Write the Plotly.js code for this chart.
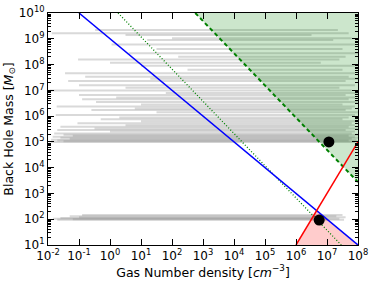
<!DOCTYPE html>
<html><head><meta charset="utf-8">
<script src="https://cdn.plot.ly/plotly-3.0.1.min.js"></script>
<style>html,body{margin:0;padding:0;background:#fff}#c{width:374px;height:281px}</style>
</head><body><div id="c"></div>
<script>
// Gray black-hole tracks: log10 mass, log10 start density, log10 end density
const trackLogM = [9.34,9.21,9.15,9.02,8.95,8.78,8.6,8.44,8.3,8.2,8.07,7.95,7.8,7.66,7.53,7.45,7.36,7.2,7.1,6.99,6.9,6.82,6.72,6.65,6.55,6.45,6.37,6.3,6.24,6.15,6.04,5.95,5.88,5.8,5.72,5.65,5.59,5.52,5.46,5.4,5.33,5.28,5.24,5.2,5.16,5.12,5.08,5.05,5.02,5.0,
  2.16,2.12,2.08,2.05,2.02,2.0,1.98];
const trackStart = [-0.48,-1.88,0.5,2.0,1.2,0.05,1.5,0.6,2.2,-1.03,0.0,1.0,2.5,-1.45,-0.8,1.3,-1.35,-1.0,0.5,-1.94,1.8,-1.0,0.2,-0.9,-0.45,1.0,-1.72,0.8,-0.6,1.5,-1.75,0.3,-0.3,1.0,-1.05,0.5,-1.6,-0.5,-1.7,0.0,-1.8,-1.5,-1.2,-1.85,-1.6,-1.3,-1.9,-1.7,-1.5,-1.9,
  -0.9,-1.3,-1.0,-1.6,-1.84,-1.2,-1.7];
const trackEnd = [7.35,7.7,6.5,7.8,7.2,7.9,7.5,8.0,7.6,7.4,6.8,7.9,7.5,7.9,7.7,8.0,7.6,7.9,7.4,7.8,8.0,7.6,7.9,7.7,8.0,7.5,7.9,7.8,7.6,8.0,7.9,7.7,7.5,8.0,7.8,7.9,7.7,8.0,7.6,7.9,7.8,8.0,7.7,7.9,8.0,7.8,7.95,7.7,8.0,7.9,
  7.5,7.3,7.6,6.8,7.4,7.0,7.55];

// Limit lines (density, mass)
const blueN = [1e-1, 1e8], blueM = [1e10, 1e1];
const dottedN = [Math.pow(10,0.26), Math.pow(10,7.46)], dottedM = [1e10, 1e1];
const dashedN = [Math.pow(10,2.75), 1e8], dashedM = [1e10, Math.pow(10,3.44)];
const redN = [1e6, 1e8], redM = [1e1, 1e5];
const greenFillN = [Math.pow(10,2.75), 1e8, 1e8, Math.pow(10,2.75)];
const greenFillM = [1e10, 1e10, Math.pow(10,3.44), 1e10];
const pinkFillN = [1e6, Math.pow(10,6.667), 1e8, 1e6];
const pinkFillM = [1e1, Math.pow(10,2.333), 1e1, 1e1];
// Black points
const dotN = [1.15e7, 5.6e6], dotM = [1e5, 93];

const xTickVals = [1e-2,1e-1,1e0,1e1,1e2,1e3,1e4,1e5,1e6,1e7,1e8];
const xTickText = ['10<sup>-2</sup>','10<sup>-1</sup>','10<sup>0</sup>','10<sup>1</sup>','10<sup>2</sup>','10<sup>3</sup>','10<sup>4</sup>','10<sup>5</sup>','10<sup>6</sup>','10<sup>7</sup>','10<sup>8</sup>'];
const yTickVals = [1e1,1e2,1e3,1e4,1e5,1e6,1e7,1e8,1e9,1e10];
const yTickText = ['10<sup>1</sup>','10<sup>2</sup>','10<sup>3</sup>','10<sup>4</sup>','10<sup>5</sup>','10<sup>6</sup>','10<sup>7</sup>','10<sup>8</sup>','10<sup>9</sup>','10<sup>10</sup>'];

const traces = [];
for (let i = 0; i < trackLogM.length; i++) {
  const m = Math.pow(10, trackLogM[i]);
  traces.push({x:[Math.pow(10,trackStart[i]), Math.pow(10,trackEnd[i])], y:[m,m], mode:'lines',
    line:{color:'rgba(140,140,140,0.33)', width:2}, hoverinfo:'skip', showlegend:false});
}
traces.push({x:greenFillN, y:greenFillM, mode:'lines', fill:'toself', fillcolor:'rgba(0,128,0,0.2)', line:{width:0}, showlegend:false});
traces.push({x:pinkFillN, y:pinkFillM, mode:'lines', fill:'toself', fillcolor:'rgba(255,0,0,0.2)', line:{width:0}, showlegend:false});
traces.push({x:dottedN, y:dottedM, mode:'lines', line:{color:'green', width:1.3, dash:'1px,2px'}, showlegend:false});
traces.push({x:dashedN, y:dashedM, mode:'lines', line:{color:'green', width:2, dash:'4px,3px'}, showlegend:false});
traces.push({x:blueN, y:blueM, mode:'lines', line:{color:'blue', width:1.5}, showlegend:false});
traces.push({x:redN, y:redM, mode:'lines', line:{color:'red', width:1.5}, showlegend:false});
traces.push({x:dotN, y:dotM, mode:'markers', marker:{color:'black', size:11}, showlegend:false});

const minorY = [];
for (let d = 1; d < 10; d++) for (let k = 2; k <= 9; k++) minorY.push(k*Math.pow(10,d));

const layout = {
  width:374, height:281, margin:{l:48, r:16, t:13, b:36},
  paper_bgcolor:'white', plot_bgcolor:'white', showlegend:false,
  font:{family:'DejaVu Sans', size:12, color:'black'},
  xaxis:{type:'log', range:[-2,8], tickmode:'array', tickvals:xTickVals, ticktext:xTickText,
    ticks:'inside', ticklen:6, tickcolor:'black', showgrid:false, zeroline:false,
    showline:true, linecolor:'black', linewidth:1, mirror:'allticks',
    tickfont:{size:12}, title:{text:'Gas Number density [<i>cm</i><sup>−3</sup>]', font:{size:12.5}, standoff:2}},
  yaxis:{type:'log', range:[1,10], tickmode:'array', tickvals:yTickVals, ticktext:yTickText,
    ticks:'inside', ticklen:6, tickcolor:'black', showgrid:false, zeroline:false,
    showline:true, linecolor:'black', linewidth:1, mirror:'allticks',
    minor:{tickmode:'array', tickvals:minorY, ticks:'inside', ticklen:3, tickcolor:'black', showgrid:false},
    tickfont:{size:12}, title:{text:'Black Hole Mass [<i>M</i><sub>⊙</sub>]', font:{size:12.5}, standoff:2}}
};
Plotly.newPlot('c', traces, layout, {displayModeBar:false, staticPlot:true});
</script></body></html>
